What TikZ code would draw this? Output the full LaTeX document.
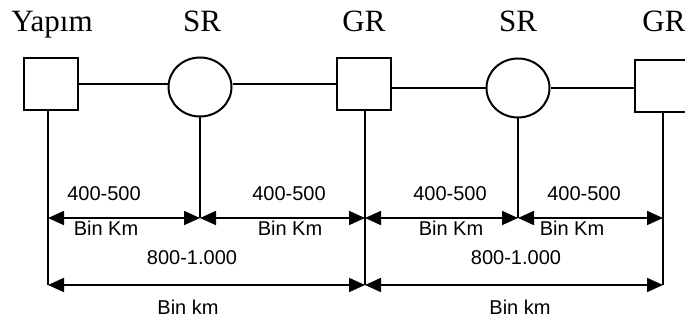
\documentclass[tikz,border=0pt]{standalone}
\usepackage{fontspec}
\setmainfont{Liberation Serif}
\newfontfamily\dimfont{Liberation Sans}
\usetikzlibrary{arrows.meta,shapes.geometric}
\begin{document}
\begin{tikzpicture}[x=1pt,y=-1pt, line width=2pt,
 boxnode/.style={draw, rectangle, minimum width=54pt, minimum height=52pt, inner sep=0pt},
 srnode/.style={draw, ellipse, minimum width=63pt, minimum height=59pt, inner sep=0pt},
 toplabel/.style={font=\fontsize{31}{36}\selectfont, anchor=base, inner sep=0pt},
 dimtext/.style={font=\dimfont\fontsize{20}{23}\selectfont, inner sep=0pt},
 dimarrow/.style={{Triangle[length=16pt,width=14pt]}-{Triangle[length=16pt,width=14pt]}, line width=1.8pt}]
\useasboundingbox (0,0) rectangle (685,320);
\fill[white] (0,0) rectangle (685,320);
% top labels
\node[toplabel] (lY) at (52,32) {Yapım};
\node[toplabel] (lS1) at (202,32) {SR};
\node[toplabel] (lG1) at (364,32) {GR};
\node[toplabel] (lS2) at (518,32) {SR};
\node[toplabel] (lG2) at (664,32) {GR};
% shapes
\node[boxnode] (b1) at (50.5,84) {};
\node[srnode] (c1) at (200,87) {};
\node[boxnode] (b2) at (364,84) {};
\node[srnode] (c2) at (518,88) {};
\node[boxnode] (b3) at (662,86) {};
% connecting lines
\draw (b1.east) -- (c1.west |- b1.east);
\draw (c1.east |- b1.east) -- (b2.west);
\draw (b2.east |- c2.west) -- (c2.west);
\draw (c2.east) -- (b3.west |- c2.east);
% dimension coordinates
\coordinate (d1) at (48,218);
\coordinate (d2) at (200,218);
\coordinate (d3) at (365,218);
\coordinate (d4) at (518,218);
\coordinate (d5) at (663,218);
\coordinate (e1) at (48,285);
\coordinate (e2) at (365,285);
\coordinate (e3) at (663,285);
% verticals
\draw (b1.south -| e1) -- (e1);
\draw (c1.south) -- (d2);
\draw (b2.south -| e2) -- (e2);
\draw (c2.south) -- (d4);
\draw (b3.south -| e3) -- (e3);
% arrows
\draw[dimarrow] (d1) -- (d2);
\draw[dimarrow] (d2) -- (d3);
\draw[dimarrow] (d3) -- (d4);
\draw[dimarrow] (d4) -- (d5);
\draw[dimarrow] (e1) -- (e2);
\draw[dimarrow] (e2) -- (e3);
% texts
\node[dimtext] (t1) at (104,194) {400-500};
\node[dimtext] (u1) at (106,228) {Bin Km};
\node[dimtext] (t2) at (289,194) {400-500};
\node[dimtext] (u2) at (290,228) {Bin Km};
\node[dimtext] (t3) at (450,194) {400-500};
\node[dimtext] (u3) at (451,228) {Bin Km};
\node[dimtext] (t4) at (584,194) {400-500};
\node[dimtext] (u4) at (572,228) {Bin Km};
\node[dimtext] (t5) at (192,258) {800-1.000};
\node[dimtext] (u5) at (188,307) {Bin km};
\node[dimtext] (t6) at (516,258) {800-1.000};
\node[dimtext] (u6) at (520,307) {Bin km};
\end{tikzpicture}
\end{document}
